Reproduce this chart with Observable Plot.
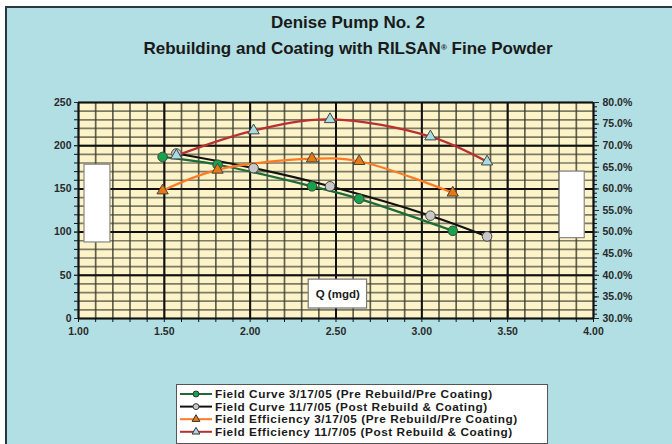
<!DOCTYPE html>
<html><head><meta charset="utf-8">
<script src="https://cdn.jsdelivr.net/npm/d3@7"></script>
<script src="https://cdn.jsdelivr.net/npm/@observablehq/plot@0.6"></script>
<style>
html,body{margin:0;padding:0;background:#fff;width:672px;height:444px;overflow:hidden;font-family:"Liberation Sans",Arial,sans-serif;}
#panel{position:absolute;left:5px;top:6px;width:667px;height:438px;background:#b1dfe3;border-top:2px solid #2a3a3c;border-left:2px solid #2a3a3c;box-sizing:border-box;}
.t{position:absolute;left:12px;width:672px;text-align:center;font-weight:bold;font-size:17px;line-height:19px;color:#1a1a1a;white-space:nowrap;}
.t sup{font-size:8px;vertical-align:top;position:relative;top:-1px;}
#chart{position:absolute;left:0;top:70px;}
#legend{position:absolute;left:176px;top:384px;}
</style>
</head><body>
<div id="panel"></div>
<div class="t" style="top:13px">Denise Pump No. 2</div>
<div class="t" style="top:39px">Rebuilding and Coating with RILSAN<sup>®</sup> Fine Powder</div>
<div id="chart"></div>
<div id="legend"></div>
<script>
// Data
const qPre = [1.49, 1.81, 2.36, 2.635, 3.18];
const headPre = [187, 178, 153, 138.5, 101.5];
const effPre = [59.6, 64.4, 67.0, 66.4, 59.1];
const qPost = [1.57, 2.02, 2.465, 3.05, 3.38];
const headPost = [191, 174, 153, 119, 95];
const effPost = [67.7, 73.5, 76.1, 72.1, 66.3];

const seriesNames = [
  "Field Curve 3/17/05 (Pre Rebuild/Pre Coating)",
  "Field Curve 11/7/05 (Post Rebuild & Coating)",
  "Field Efficiency 3/17/05 (Pre Rebuild/Pre Coating)",
  "Field Efficiency 11/7/05 (Post Rebuild & Coating)"
];
const lineColors = ["#1d6b38", "#111111", "#ff7a22", "#b83030"];
const markerFills = ["#17a34a", "#c9c9c9", "#e8780f", "#a9dbe3"];
const markerSymbols = ["circle", "circle", "triangle", "triangle"];

const xTickLabels = [1.0, 1.5, 2.0, 2.5, 3.0, 3.5, 4.0];
const headTickLabels = [0, 50, 100, 150, 200, 250];
const effTickLabels = [30, 35, 40, 45, 50, 55, 60, 65, 70, 75, 80];
const axisTitle = "Q (mgd)";
const axisTitleBox = [{x1: 2.341, x2: 2.681, y1: 11.6, y2: 45, x: 2.51, y: 28}];
const blankBoxes = [
  {x1: 1.035, x2: 1.186, y1: 88, y2: 178},
  {x1: 3.803, x2: 3.949, y1: 93, y2: 170}
];

const effMin = 30, effMax = 80, headMax = 250;
const effToHead = e => (e - effMin) * headMax / (effMax - effMin);
const headToEff = h => h * (effMax - effMin) / headMax + effMin;

const series = [
  {q: qPre, v: headPre},
  {q: qPost, v: headPost},
  {q: qPre, v: effPre.map(effToHead)},
  {q: qPost, v: effPost.map(effToHead)}
];
const rows = [];
series.forEach((s, i) => s.q.forEach((q, j) => rows.push({s: i, q, v: s.v[j]})));

const minorX = d3.range(10, 41).map(d => d / 10);
const minorY = d3.range(0, 251, 10);
const effMinor = d3.range(effMin, effMax + 0.01, 1).map(effToHead);

const marks = [
  Plot.frame({fill: "#fcf4c8"}),
  Plot.ruleX(minorX, {stroke: "#3a3a30", strokeOpacity: 0.8, strokeWidth: 1.7}),
  Plot.ruleY(minorY, {stroke: "#3a3a30", strokeOpacity: 0.65, strokeWidth: 1.7}),
  Plot.ruleX(xTickLabels, {stroke: "#111", strokeWidth: 2}),
  Plot.ruleY(headTickLabels, {stroke: "#111", strokeWidth: 2}),
  Plot.rect(blankBoxes, {x1: "x1", x2: "x2", y1: "y1", y2: "y2", fill: "#fff", stroke: "#888", strokeWidth: 1.2}),
  Plot.rect(axisTitleBox, {x1: "x1", x2: "x2", y1: "y1", y2: "y2", fill: "#fff", stroke: "#777", strokeWidth: 1.2}),
  Plot.text(axisTitleBox, {x: "x", y: "y", text: () => axisTitle, fontSize: 11.5, fontWeight: "bold", fill: "#1a1a1a"}),
];
series.forEach((s, i) => {
  const data = rows.filter(r => r.s === i);
  marks.push(Plot.line(data, {x: "q", y: "v", stroke: lineColors[i], strokeWidth: 2.2, curve: "catmull-rom"}));
});
series.forEach((s, i) => {
  const data = rows.filter(r => r.s === i);
  marks.push(Plot.dot(data, {x: "q", y: "v", symbol: markerSymbols[i], r: markerSymbols[i] === "circle" ? 4.8 : 4.2,
    fill: markerFills[i], stroke: "#444", strokeWidth: 1}));
});
// axes
marks.push(
  Plot.axisX({ticks: minorX, tickSize: 4, tickFormat: () => "", stroke: "#111"}),
  Plot.axisX({ticks: xTickLabels, tickSize: 0, tickPadding: 9, tickFormat: d => d.toFixed(2)}),
  Plot.axisY({anchor: "left", ticks: minorY, tickSize: 4, tickFormat: () => "", stroke: "#111"}),
  Plot.axisY({anchor: "left", ticks: headTickLabels, tickSize: 4, tickPadding: 3, tickFormat: d => String(d)}),
  Plot.axisY({anchor: "right", ticks: effMinor, tickSize: 3, tickFormat: () => "", stroke: "#111"}),
  Plot.axisY({anchor: "right", ticks: effTickLabels.map(effToHead), tickSize: 5, tickPadding: 4, tickFormat: d => headToEff(d).toFixed(1) + "%"})
);

const chart = Plot.plot({
  width: 672, height: 300,
  marginTop: 32, marginBottom: 52, marginLeft: 78, marginRight: 79,
  x: {domain: [1, 4]},
  y: {domain: [0, 250]},
  style: {background: "transparent", color: "#2a2a2a", fontSize: "10.5px", fontWeight: "bold", fontFamily: "Liberation Sans, Arial, sans-serif"},
  marks
});
document.getElementById("chart").appendChild(chart);

// legend
const lw = 372, lh = 60;
const leg = d3.create("svg").attr("width", lw).attr("height", lh);
leg.append("rect").attr("x", 0.5).attr("y", 0.5).attr("width", lw - 1).attr("height", lh - 1)
  .attr("fill", "#fff").attr("stroke", "#555");
seriesNames.forEach((name, i) => {
  const y = 10 + i * 12.6;
  const g = leg.append("g");
  g.append("line").attr("x1", 4).attr("x2", 36).attr("y1", y).attr("y2", y).attr("stroke", lineColors[i]).attr("stroke-width", 2);
  const sym = d3.symbol(markerSymbols[i] === "circle" ? d3.symbolCircle : d3.symbolTriangle, markerSymbols[i] === "circle" ? 28 : 26)();
  g.append("path").attr("d", sym).attr("transform", `translate(20,${y})`).attr("fill", markerFills[i]).attr("stroke", "#333").attr("stroke-width", 1);
  g.append("text").attr("x", 39).attr("y", y).attr("dy", "0.36em").text(name)
    .attr("font-family", "Liberation Sans, Arial, sans-serif").attr("font-weight", "bold").attr("font-size", 11.8)
    .attr("letter-spacing", "0.55").attr("fill", "#1a1a1a");
});
document.getElementById("legend").appendChild(leg.node());
</script>
</body></html>
